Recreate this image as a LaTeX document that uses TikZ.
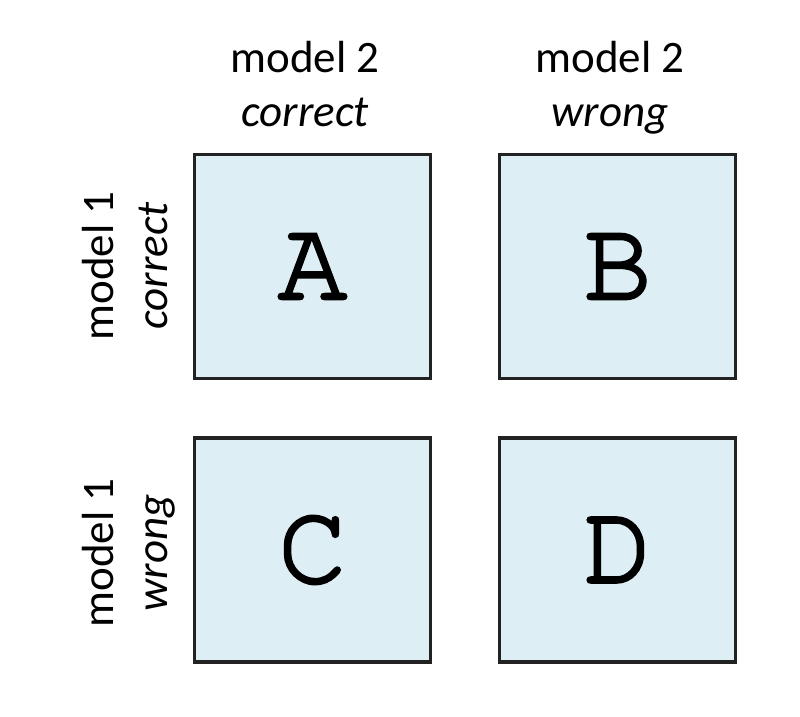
\documentclass[tikz,border=0pt]{standalone}
\usepackage{fontspec}
\setmainfont{Carlito}
\newfontfamily\lettfont[FakeBold=2.5]{TeX Gyre Cursor}
\definecolor{boxfill}{HTML}{DDEEF4}
\definecolor{boxline}{HTML}{222222}
\begin{document}
\begin{tikzpicture}[x=1pt,y=1pt,
  cell/.style={draw=boxline,fill=boxfill,line width=3.2pt,minimum width=236pt,minimum height=224pt,inner sep=0pt,
    font=\lettfont\fontsize{115}{115}\selectfont},
  lbl/.style={anchor=base,inner sep=0pt,font=\fontsize{45}{54}\selectfont},
  lblr/.style={lbl,rotate=90}]
\useasboundingbox (0,0) rectangle (800,-717);
\node[cell] (A) at (312.5,-266.5) {A};
\node[cell] (B) at (617.5,-266.5) {B};
\node[cell] (C) at (312.5,-550) {C};
\node[cell] (D) at (617.5,-550) {D};
\node[lbl] (t1a) at (305,-73) {model 2};
\node[lbl] (t1b) at (305,-126) {\itshape correct};
\node[lbl] (t2a) at (610,-73) {model 2};
\node[lbl] (t2b) at (610,-126) {\itshape wrong};
\node[lblr] (l1a) at (113,-266) {model 1};
\node[lblr] (l1b) at (167,-266) {\itshape correct};
\node[lblr] (l2a) at (113,-553) {model 1};
\node[lblr] (l2b) at (167,-553) {\itshape wrong};
\end{tikzpicture}
\end{document}
